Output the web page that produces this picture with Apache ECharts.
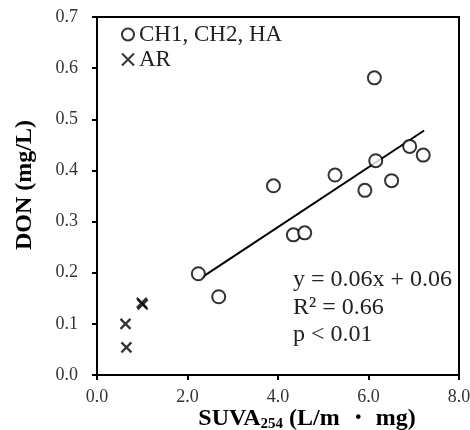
<!DOCTYPE html>
<html><head><meta charset="utf-8">
<script src="https://cdn.jsdelivr.net/npm/echarts@6/dist/echarts.min.js"></script>
<style>html,body{margin:0;padding:0;background:#fff}#c{width:470px;height:430px}</style>
</head><body><div id="c"></div>
<script>
const circleName = 'CH1, CH2, HA';
const crossName = 'AR';
const circleX = [2.24, 2.69, 3.90, 4.34, 4.59, 5.26, 5.92, 6.13, 6.16, 6.51, 6.91, 7.21];
const circleY = [0.198, 0.153, 0.370, 0.274, 0.278, 0.391, 0.361, 0.581, 0.419, 0.380, 0.447, 0.430];
const crossX = [0.63, 0.65, 0.99, 1.01];
const crossY = [0.100, 0.054, 0.141, 0.138];
const trendX = [2.30, 7.23];
const trendY = [0.190, 0.478];
const xTicks = [0, 2, 4, 6, 8];
const yTicks = [0, 0.1, 0.2, 0.3, 0.4, 0.5, 0.6, 0.7];
const eqLines = ['y = 0.06x + 0.06', 'R² = 0.66', 'p < 0.01'];

const zip = (a, b) => a.map((v, i) => [v, b[i]]);
const serif = '"Liberation Serif", "Times New Roman", serif';
const crossPath = 'path://M0,0L10,10M10,0L0,10';

const chart = echarts.init(document.getElementById('c'));
chart.setOption({
  animation: false,
  grid: { left: 97, right: 11, top: 17, bottom: 55, outerBoundsMode: 'none', containLabel: false,
    show: true, borderColor: '#000', borderWidth: 2, backgroundColor: 'transparent' },
  legend: {
    left: 121, top: 23, padding: 0, orient: 'vertical', itemGap: 2, itemWidth: 12, itemHeight: 12,
    textStyle: { fontFamily: serif, fontSize: 23, color: '#222' },
    data: [
      { name: circleName, icon: 'circle', itemStyle: { color: '#fff', borderColor: '#000', borderWidth: 2 } },
      { name: crossName, icon: crossPath, itemStyle: { color: '#000', borderColor: '#000', borderWidth: 2 } }
    ]
  },
  xAxis: {
    type: 'value', min: xTicks[0], max: xTicks[xTicks.length - 1], interval: 2,
    axisLine: { lineStyle: { color: '#000', width: 2 } },
    axisTick: { show: true, inside: false, length: 5, lineStyle: { color: '#000', width: 2 } },
    splitLine: { show: false },
    axisLabel: { fontFamily: serif, fontSize: 18, color: '#333', margin: 13, formatter: v => v.toFixed(1) },
    name: '{a|SUVA}{s|254}{a| (L/m ・ mg)}', nameLocation: 'middle', nameGap: 31, nameMoveOverlap: false,
    nameTextStyle: { padding: [0, 0, 0, 58], lineHeight: 26, rich: {
      a: { fontFamily: serif, fontSize: 24, lineHeight: 26, fontWeight: 'bold', color: '#000' },
      s: { fontFamily: serif, fontSize: 15, lineHeight: 15, fontWeight: 'bold', color: '#000', verticalAlign: 'bottom' }
    } }
  },
  yAxis: {
    type: 'value', min: yTicks[0], max: yTicks[yTicks.length - 1], interval: 0.1,
    axisLine: { lineStyle: { color: '#000', width: 2 } },
    axisTick: { show: true, inside: false, length: 5, lineStyle: { color: '#000', width: 2 } },
    splitLine: { show: false },
    axisLabel: { fontFamily: serif, fontSize: 18, color: '#333', margin: 19, formatter: v => v.toFixed(1) },
    name: 'DON (mg/L)', nameLocation: 'middle', nameGap: 60,
    nameTextStyle: { fontFamily: serif, fontSize: 24, fontWeight: 'bold', color: '#000', padding: [0, 0, 0, 22] }
  },
  graphic: [{
    type: 'text', left: 293, top: 266,
    style: { text: eqLines.join('\n'), fontFamily: serif, fontSize: 24, lineHeight: 27.5, fill: '#222' }
  }],
  series: [
    { name: 'trend', type: 'line', data: zip(trendX, trendY), symbol: 'none', lineStyle: { color: '#000', width: 2 }, z: 1 },
    { name: circleName, type: 'scatter', data: zip(circleX, circleY), symbol: 'circle', symbolSize: 13,
      itemStyle: { color: '#fff', borderColor: '#000', borderWidth: 2 }, z: 3 },
    { name: crossName, type: 'scatter', data: zip(crossX, crossY), symbol: crossPath, symbolSize: 10,
      itemStyle: { color: '#000', borderColor: '#000', borderWidth: 2.2 }, z: 3 }
  ]
});
</script></body></html>
